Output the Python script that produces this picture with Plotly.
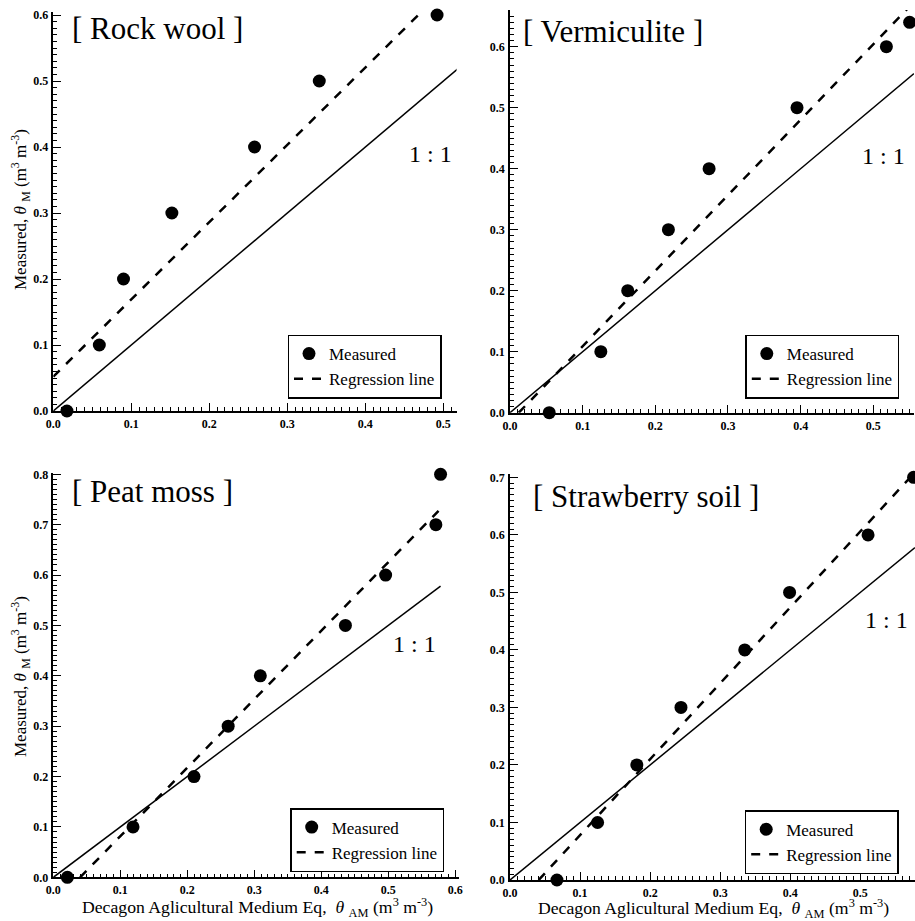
import plotly.graph_objects as go

# ---------------- data ----------------
PANEL_NAMES = ["Rock wool", "Vermiculite", "Peat moss", "Strawberry soil"]

rock_x = [0.0175, 0.059, 0.090, 0.152, 0.258, 0.341, 0.492]
rock_y = [0.0, 0.1, 0.2, 0.3, 0.4, 0.5, 0.6]

verm_x = [0.054, 0.125, 0.162, 0.218, 0.274, 0.395, 0.518, 0.550]
verm_y = [0.0, 0.1, 0.2, 0.3, 0.4, 0.5, 0.6, 0.64]

peat_x = [0.021, 0.119, 0.210, 0.261, 0.309, 0.436, 0.496, 0.571, 0.578]
peat_y = [0.0, 0.1, 0.2, 0.3, 0.4, 0.5, 0.6, 0.7, 0.8]

straw_x = [0.067, 0.125, 0.181, 0.244, 0.335, 0.399, 0.511, 0.576]
straw_y = [0.0, 0.1, 0.2, 0.3, 0.4, 0.5, 0.6, 0.7]

# regression line (slope, intercept)
reg_slope = [1.171, 1.238, 1.360, 1.320]
reg_intercept = [0.052, -0.0149, -0.0545, -0.054]
reg_x_start = [0.0, 0.012, 0.040, 0.041]
reg_x_end = [0.52, 0.556, 0.575, 0.578]

# 1:1 line extent
one_x_end = [0.52, 0.556, 0.578, 0.578]

# axis ranges
x_max = [0.517, 0.556, 0.605, 0.578]
y_max = [0.605, 0.66, 0.802, 0.705]

# ---------------- layout geometry ----------------
W, H = 915, 921
FONT = "Liberation Serif, Times New Roman, serif"

# pixel boxes: (x0, x_right, y_bottom, y_top)
boxes = [
    (53.3, 53.3 + 0.517 * 780, 411.0, 411.0 - 0.605 * 660),
    (510.0, 914.0, 412.7, 412.7 - 0.66 * 610),
    (53.3, 53.3 + 0.605 * 670, 877.3, 877.3 - 0.802 * 503.75),
    (510.0, 915.0, 880.0, 880.0 - 0.705 * 575.2),
]

xs = [rock_x, verm_x, peat_x, straw_x]
ys = [rock_y, verm_y, peat_y, straw_y]

fig = go.Figure()
layout = dict(
    width=W, height=H,
    margin=dict(l=0, r=0, t=0, b=0, pad=0, autoexpand=False),
    paper_bgcolor="white", plot_bgcolor="white",
    font=dict(family=FONT, color="black"),
    annotations=[],
)

title_pos = [(70, 28), (521, 31), (70, 491), (531, 496)]
oneone_pos = [(0.483, 0.39), (0.514, 0.42), (0.539, 0.464), (0.538, 0.452)]
legend_center = [(364.5, 366.5), (822.3, 366.5), (367.2, 840), (821.7, 842.2)]

for i in range(4):
    sfx = "" if i == 0 else str(i + 1)
    xa, ya = "x" + sfx, "y" + sfx
    lg = "legend" if i == 0 else "legend" + str(i + 1)
    x0, x1, yb, yt = boxes[i]

    axis_common = dict(
        showline=True, linecolor="black", linewidth=1.5,
        ticks="inside", ticklen=8, tickwidth=1.2, tickcolor="black",
        dtick=0.1, tick0=0, tickformat=".1f",
        showgrid=False, zeroline=False, mirror=False, automargin=False,
        tickfont=dict(family=FONT, size=12, color="black", weight="bold"),
        minor=dict(ticks="inside", ticklen=4, tickwidth=1, tickcolor="black",
                   dtick=0.01, showgrid=False),
    )
    layout["xaxis" + sfx] = dict(
        axis_common, domain=[x0 / W, min(x1 / W, 1.0)], range=[0, x_max[i]],
        anchor=ya, ticklabelstandoff=1,
    )
    layout["yaxis" + sfx] = dict(
        axis_common, domain=[1 - yb / H, 1 - yt / H], range=[0, y_max[i]],
        anchor=xa, ticklabelstandoff=1,
    )

    # 1:1 line
    fig.add_trace(go.Scatter(
        x=[0, one_x_end[i]], y=[0, one_x_end[i]], mode="lines",
        line=dict(color="black", width=1.5), showlegend=False,
        xaxis=xa, yaxis=ya, hoverinfo="skip",
    ))
    # measured points
    fig.add_trace(go.Scatter(
        x=xs[i], y=ys[i], mode="markers", name="Measured",
        marker=dict(color="black", size=13), cliponaxis=False,
        xaxis=xa, yaxis=ya, legend=lg,
    ))
    # regression line
    rx = [reg_x_start[i], reg_x_end[i]]
    ry = [reg_intercept[i] + reg_slope[i] * v for v in rx]
    fig.add_trace(go.Scatter(
        x=rx, y=ry, mode="lines", name="Regression line",
        line=dict(color="black", width=2.5, dash="dash"),
        xaxis=xa, yaxis=ya, legend=lg,
    ))

    lx, ly = legend_center[i]
    layout[lg] = dict(
        x=lx / W, y=1 - ly / H, xanchor="center", yanchor="middle",
        bgcolor="white", bordercolor="black", borderwidth=1.5,
        font=dict(family=FONT, size=17, color="black"),
        tracegroupgap=0, itemwidth=30,
    )

    tx, ty = title_pos[i]
    layout["annotations"].append(dict(
        text="[ " + PANEL_NAMES[i] + " ]", xref="paper", yref="paper",
        x=tx / W, y=1 - ty / H, xanchor="left", yanchor="middle",
        showarrow=False, font=dict(family=FONT, size=31, color="black"),
    ))
    ox, oy = oneone_pos[i]
    layout["annotations"].append(dict(
        text="1 : 1", xref=xa, yref=ya, x=ox, y=oy,
        xanchor="center", yanchor="middle", showarrow=False,
        font=dict(family=FONT, size=24, color="black"),
    ))

ytitle = "Measured, <i>θ</i> <sub>M</sub> (m<sup>3</sup> m<sup>-3</sup>)"
xtitle = "Decagon Aglicultural Medium Eq,  <i>θ</i> <sub>AM</sub> (m<sup>3</sup> m<sup>-3</sup>)"
for (px, py) in [(20, 210), (20, 677)]:
    layout["annotations"].append(dict(
        text=ytitle, xref="paper", yref="paper", x=px / W, y=1 - py / H,
        xanchor="center", yanchor="middle", textangle=-90, showarrow=False,
        font=dict(family=FONT, size=17, color="black"),
    ))
for (px, py) in [(257, 907), (713, 908)]:
    layout["annotations"].append(dict(
        text=xtitle, xref="paper", yref="paper", x=px / W, y=1 - py / H,
        xanchor="center", yanchor="middle", showarrow=False,
        font=dict(family=FONT, size=17.7, color="black"),
    ))

fig.update_layout(**layout)
fig.write_html(
    "out.html",
    config={"displayModeBar": False},
    post_script="document.body.style.margin='0';document.body.style.overflow='hidden';",
)
